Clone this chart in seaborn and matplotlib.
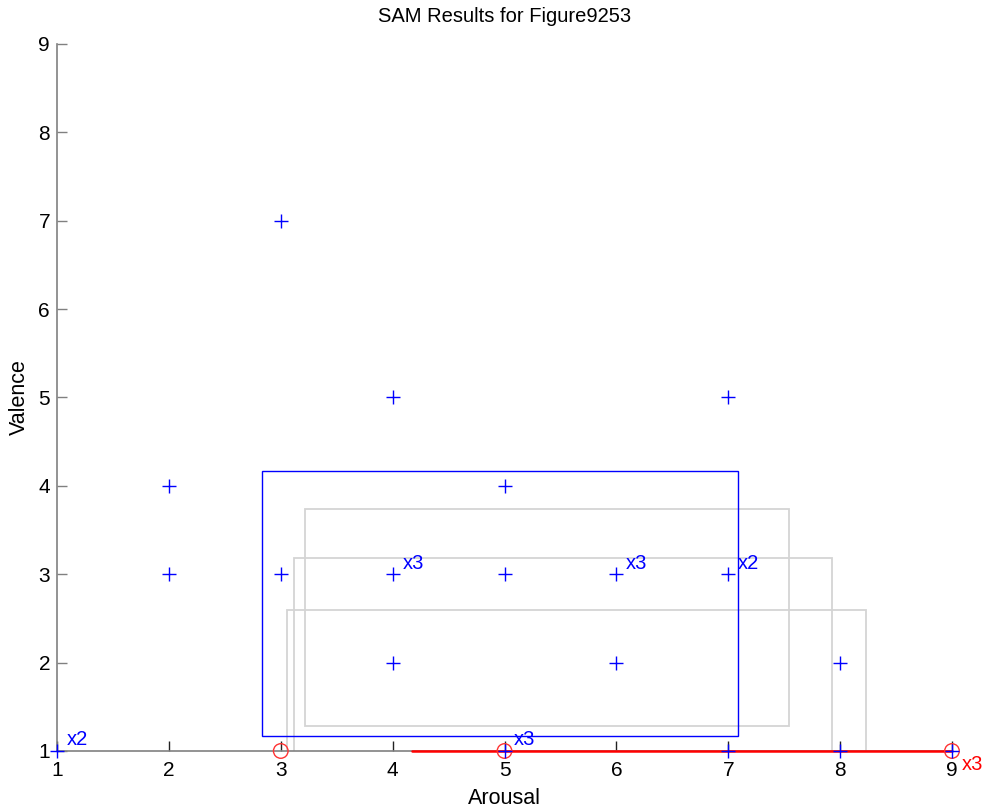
import numpy as np
import pandas as pd
import matplotlib
matplotlib.use('Agg')
import matplotlib.pyplot as plt
from matplotlib.patches import Rectangle
import seaborn as sns

sns.set_style('white')
plt.rcParams['font.family'] = ['Liberation Sans', 'DejaVu Sans']
plt.rcParams['text.color'] = 'black'
plt.rcParams['axes.labelcolor'] = 'black'
plt.rcParams['xtick.color'] = 'black'
plt.rcParams['ytick.color'] = 'black'

# individual ratings (arousal, valence) and how many times each occurred
blue_arousal = [1, 2, 2, 3, 3, 4, 4, 4, 5, 5, 5, 6, 6, 7, 7, 7, 8, 8, 9]
blue_valence = [1, 3, 4, 7, 3, 5, 3, 2, 4, 3, 1, 3, 2, 5, 3, 1, 2, 1, 1]
blue_count = [2, 1, 1, 1, 1, 1, 3, 1, 1, 1, 3, 3, 1, 1, 2, 1, 1, 1, 1]

red_arousal = [3, 5, 9]
red_valence = [1, 1, 1]
red_count = [1, 1, 3]

# mean +/- std boxes: arousal low/high, valence low/high
blue_box = [2.83, 7.09, 1.17, 4.17]
red_box = [4.17, 9.83, 1.0, 1.0]
gray_x0 = [3.22, 3.12, 3.06]
gray_x1 = [7.54, 7.93, 8.23]
gray_y0 = [1.28, 0.60, 0.30]
gray_y1 = [3.74, 3.18, 2.60]

ticks = [1, 2, 3, 4, 5, 6, 7, 8, 9]

blue_df = pd.DataFrame({'Arousal': blue_arousal, 'Valence': blue_valence, 'n': blue_count})
red_df = pd.DataFrame({'Arousal': red_arousal, 'Valence': red_valence, 'n': red_count})

fig = plt.figure(figsize=(9.9, 8.09), dpi=100)
ax = fig.add_axes([0.0576, 0.0717, 0.904, 0.874])

# gray reference boxes
for x0, x1, y0, y1 in zip(gray_x0, gray_x1, gray_y0, gray_y1):
    ax.add_patch(Rectangle((x0, y0), x1 - x0, y1 - y0, fill=False,
                           edgecolor='#d4d4d4', linewidth=1.3, zorder=1))

# blue box
ax.add_patch(Rectangle((blue_box[0], blue_box[2]), blue_box[1] - blue_box[0],
                       blue_box[3] - blue_box[2], fill=False,
                       edgecolor='#0000ff', linewidth=1.0, zorder=2))

# red box has zero height -> a line on the axis
ax.plot([max(red_box[0], ticks[0]), min(red_box[1], ticks[-1])],
        [red_box[2], red_box[3]], color='#ff0000', linewidth=1.8,
        clip_on=False, zorder=3)

sns.scatterplot(data=red_df, x='Arousal', y='Valence', marker='o', s=110,
                facecolor='none', edgecolor='#ff3333', linewidth=1.0,
                ax=ax, clip_on=False, zorder=4)
sns.scatterplot(data=blue_df, x='Arousal', y='Valence', marker='+', s=110,
                color='#0000ff', linewidth=1.0, ax=ax, clip_on=False, zorder=5)

for _, r in blue_df[blue_df['n'] > 1].iterrows():
    ax.annotate('x%d' % r['n'], (r['Arousal'], r['Valence']), xytext=(7, 4),
                textcoords='offset points', color='#0000ff', fontsize=14.5,
                va='baseline', ha='left', annotation_clip=False)
for _, r in red_df[red_df['n'] > 1].iterrows():
    ax.annotate('x%d' % r['n'], (r['Arousal'], r['Valence']), xytext=(7, -3),
                textcoords='offset points', color='#ff0000', fontsize=14.5,
                va='top', ha='left', annotation_clip=False)

ax.set_xlim(1, 9)
ax.set_ylim(1, 9)
ax.set_xticks(ticks)
ax.set_yticks(ticks)
ax.tick_params(bottom=True, left=True, direction='in', length=7, width=1,
               labelsize=15, pad=5)
ax.tick_params(axis='y', color='#808080')
ax.tick_params(axis='x', color='#222222', pad=7)
for s in ['top', 'right']:
    ax.spines[s].set_visible(False)
for s in ['left', 'bottom']:
    ax.spines[s].set_color('#808080')
    ax.spines[s].set_linewidth(1.2)

ax.set_xlabel('Arousal', fontsize=15.5, labelpad=6)
ax.set_ylabel('Valence', fontsize=15.5, labelpad=6)
ax.set_title('SAM Results for Figure9253', fontsize=14.5, pad=16)

fig.savefig('out.png', dpi=100)
